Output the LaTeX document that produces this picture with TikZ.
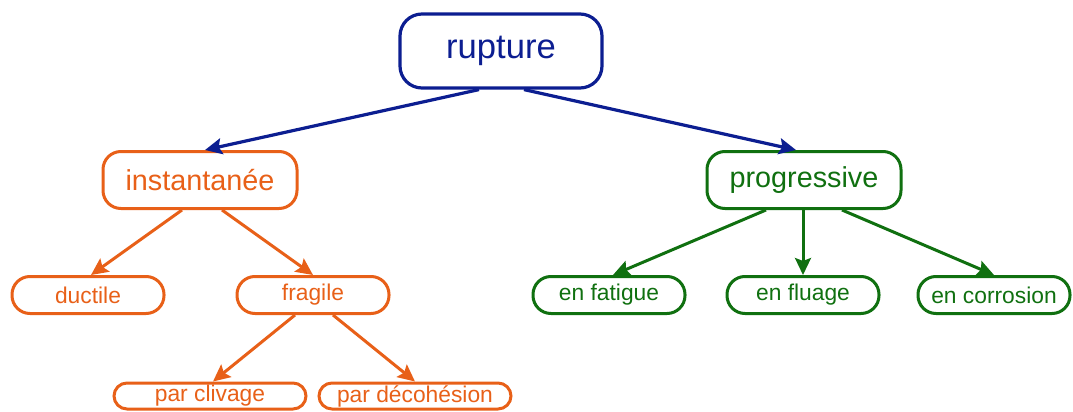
\documentclass[tikz,border=0pt]{standalone}
\usepackage{fontspec}
\setmainfont{Liberation Sans}
\usetikzlibrary{arrows.meta,positioning}
\definecolor{nbr}{RGB}{12,30,145}
\definecolor{nor}{RGB}{232,96,24}
\definecolor{ngr}{RGB}{16,112,16}
\tikzset{
  bn/.style={rectangle,rounded corners=11pt,draw=nbr,text=nbr,line width=1.6pt,
    minimum width=#1,minimum height=37pt,inner sep=0pt,font=\fontsize{17.3}{20}\selectfont},
  bn/.default=101pt,
  on/.style={rectangle,draw=nor,text=nor,line width=1.5pt,inner sep=0pt,minimum width=#1},
  on/.default=76pt,
  gn/.style={rectangle,draw=ngr,text=ngr,line width=1.5pt,inner sep=0pt,minimum width=#1},
  gn/.default=76pt,
  lvone/.style={minimum height=28.5pt,rounded corners=9pt,font=\fontsize{14.4}{16}\selectfont},
  lvtwo/.style={minimum height=18.5pt,rounded corners=9pt,font=\fontsize{11.4}{13}\selectfont},
  lvthree/.style={minimum height=13pt,rounded corners=6.5pt,font=\fontsize{11.4}{13}\selectfont},
  arr/.style={-{Stealth[length=8.5pt,width=8pt,inset=1.5pt]},line width=1.5pt},
}
\begin{document}
\begin{tikzpicture}[x=0.5pt,y=-0.5pt]
  \useasboundingbox (0,0) rectangle (1073,412);
  \node[bn] (rupture) at (501,51) {rupture};
  \node[on=97pt,lvone] (instant) at (200,180) {instantanée};
  \node[gn=97pt,lvone] (progr) at (804,180) {progressive};
  \node[on,lvtwo] (ductile) at (88,295) {ductile};
  \node[on,lvtwo] (fragile) at (313,295) {fragile};
  \node[gn,lvtwo] (fatigue) at (609,295) {en fatigue};
  \node[gn,lvtwo] (fluage) at (803,295) {en fluage};
  \node[gn,lvtwo] (corrosion) at (994,295) {en corrosion};
  \node[on=96pt,lvthree] (clivage) at (210,396) {par clivage};
  \node[on=96pt,lvthree] (decohes) at (415,396) {par décohésion};
  \draw[arr,nbr,line width=1.6pt] ([xshift=-11pt]rupture.south) -- ([xshift=2.5pt]instant.north);
  \draw[arr,nbr,line width=1.6pt] ([xshift=11.5pt]rupture.south) -- ([xshift=-4pt]progr.north);
  \draw[arr,nor] ([xshift=-9pt]instant.south) -- ([xshift=1.5pt]ductile.north);
  \draw[arr,nor] ([xshift=11pt]instant.south) -- (fragile.north);
  \draw[arr,nor] ([xshift=-9pt]fragile.south) -- ([xshift=1.5pt]clivage.north);
  \draw[arr,nor] ([xshift=10pt]fragile.south) -- (decohes.north);
  \draw[arr,ngr] ([xshift=-19pt]progr.south) -- ([xshift=2pt]fatigue.north);
  \draw[arr,ngr] ([xshift=-0.5pt]progr.south) -- (fluage.north);
  \draw[arr,ngr] ([xshift=19pt]progr.south) -- (corrosion.north);
\end{tikzpicture}
\end{document}
